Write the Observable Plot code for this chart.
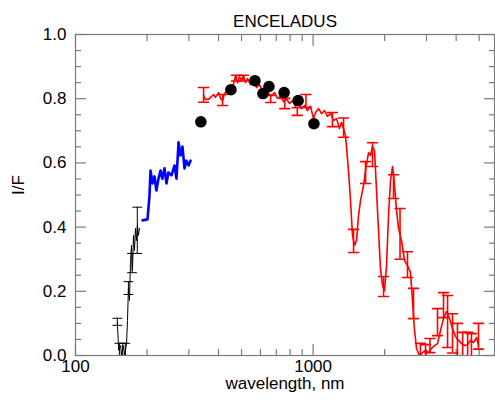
<!DOCTYPE html>
<html>
<head>
<meta charset="utf-8">
<script src="https://cdn.jsdelivr.net/npm/d3@7"></script>
<script src="https://cdn.jsdelivr.net/npm/@observablehq/plot@0.6"></script>
<style>
  body { margin: 0; background: #fff; }
  svg { display: block; }
</style>
</head>
<body>
<div id="chart"></div>
<script>
// Enceladus reflectance spectrum, I/F versus wavelength (nm)

// Far-UV spectrum (black)
const uvWave = [150, 152, 155, 156, 159, 161, 164, 165.5, 167, 168.7, 170.4, 172, 173.7, 175.4, 177.1, 178.8, 180.5, 182.3, 184, 185.8];
const uvIF   = [0.103, 0.016, 0.031, 0, 0.031, 0, 0.037, 0.109, 0.209, 0.171, 0.29, 0.343, 0.265, 0.374, 0.327, 0.396, 0.358, 0.405, 0.374, 0.396];
const uvErrWave = [150, 153, 158, 162, 167, 173, 182];
const uvErrIF   = [0.105, 0.019, 0.019, 0.019, 0.21, 0.288, 0.39];
const uvErr     = [0.011, 0.019, 0.019, 0.019, 0.02, 0.03, 0.072];

// Near-UV spectrum (blue)
const blueWave = [191.4, 201, 204.8, 206.9, 211, 215, 219, 223.5, 228, 232, 237, 241.5, 246, 253.5, 261, 266, 271.5, 276.7, 282, 287.6, 293, 299, 305];
const blueIF   = [0.421, 0.424, 0.498, 0.576, 0.536, 0.558, 0.514, 0.551, 0.576, 0.551, 0.583, 0.536, 0.570, 0.561, 0.592, 0.551, 0.664, 0.623, 0.651, 0.583, 0.607, 0.592, 0.607];

// Visible / near-IR spectrum (red)
const redWave = [346, 352, 363, 374, 381, 388, 400, 408, 416, 424, 436, 449, 462, 471, 481, 490, 500, 509, 519, 530,
  545, 561, 578, 595, 612, 630, 649, 668, 688, 708, 729, 751, 773, 796, 819, 843, 868, 894, 920, 947,
  975, 1004, 1024, 1054, 1085, 1117, 1150, 1184, 1219, 1255, 1291, 1317, 1343, 1369, 1409, 1437, 1465, 1494, 1523, 1553,
  1584, 1630, 1662, 1711, 1745, 1778, 1813, 1849, 1885, 1921, 1959, 1998, 2037, 2077, 2118, 2159, 2202, 2244, 2288, 2356,
  2425, 2496, 2570, 2620, 2672, 2724, 2804, 2887, 2972, 3060, 3150, 3243, 3339, 3437, 3539, 3643, 3751, 3861, 3975, 4093,
  4213, 4338, 4466, 4597, 4733, 4872, 4967];
const redIF = [0.810, 0.798, 0.798, 0.807, 0.813, 0.804, 0.819, 0.801, 0.794, 0.816, 0.826, 0.832, 0.844, 0.869, 0.850, 0.869, 0.857, 0.872, 0.850, 0.863,
  0.844, 0.857, 0.835, 0.844, 0.826, 0.835, 0.816, 0.810, 0.819, 0.801, 0.807, 0.791, 0.798, 0.785, 0.794, 0.776, 0.785, 0.769, 0.779, 0.763,
  0.776, 0.738, 0.757, 0.769, 0.754, 0.763, 0.745, 0.754, 0.732, 0.738, 0.707, 0.726, 0.707, 0.685, 0.576, 0.483, 0.374, 0.343, 0.358, 0.436,
  0.483, 0.530, 0.576, 0.632, 0.623, 0.651, 0.639, 0.514, 0.389, 0.271, 0.218, 0.202, 0.280, 0.436, 0.545, 0.589, 0.530, 0.452, 0.396, 0.358,
  0.296, 0.280, 0.259, 0.171, 0.078, 0.022, 0, 0.009, 0.016, 0.009, 0.022, 0.031, 0.037, 0.078, 0.115, 0.137, 0.115, 0.084, 0.059, 0.047,
  0.037, 0.031, 0.034, 0.047, 0.040, 0.056, 0.031];
const redErrWave = [346, 416, 476, 509, 663, 760, 858, 933, 1206, 1343, 1480, 1662, 1778, 1979, 2180, 2322, 2496, 2646,
  2830, 2972, 3103, 3339, 3539, 3680, 3861, 4050, 4260, 4470, 4640, 4967];
const redErrIF = [0.812, 0.796, 0.864, 0.864, 0.799, 0.785, 0.760, 0.793, 0.735, 0.71, 0.357, 0.570, 0.626, 0.215, 0.526, 0.379, 0.283, 0.162,
  0.019, 0.017, 0.031, 0.104, 0.157, 0.106, 0.069, 0.050, 0.036, 0.036, 0.034, 0.06];
const redErr = [0.023, 0.017, 0.009, 0.009, 0.011, 0.016, 0.012, 0.02, 0.022, 0.03, 0.036, 0.034, 0.037, 0.031, 0.037, 0.079, 0.040, 0.047,
  0.019, 0.017, 0.022, 0.042, 0.039, 0.081, 0.061, 0.050, 0.036, 0.036, 0.034, 0.04];

// Broadband photometry (black dots)
const dotWave = [337, 451, 569, 615, 652, 755, 865, 1008];
const dotIF   = [0.728, 0.828, 0.856, 0.816, 0.838, 0.819, 0.794, 0.722];

// Axis ticks
const xMajor = [100, 1000];
const xMinor = [200, 300, 400, 500, 600, 700, 800, 900, 2000, 3000, 4000, 5000];
const yMajor = [0, 0.2, 0.4, 0.6, 0.8, 1.0];
const yMinor = [0.05, 0.1, 0.15, 0.25, 0.3, 0.35, 0.45, 0.5, 0.55, 0.65, 0.7, 0.75, 0.85, 0.9, 0.95];

const pairs = (ws, vs) => ws.map((w, i) => ({w, v: vs[i]}));
const bars = (ws, vs, es) => ws.map((w, i) => ({w, v: vs[i], lo: Math.max(0, vs[i] - es[i]), hi: vs[i] + es[i]}));

const uv = pairs(uvWave, uvIF);
const blue = pairs(blueWave, blueIF);
const red = pairs(redWave, redIF);
const dots = pairs(dotWave, dotIF);
const uvBars = bars(uvErrWave, uvErrIF, uvErr);
const redBars = bars(redErrWave, redErrIF, redErr);

// horizontal cap of an error bar, drawn as a centred vector
const capShape = { draw(context, l) { context.moveTo(0, 0); context.lineTo(0, -l); } };

function errorBars(data, color, width, capLength) {
  return [
    Plot.ruleX(data, {x: "w", y1: "lo", y2: "hi", stroke: color, strokeWidth: width, clip: true}),
    Plot.vector(data, {x: "w", y: "hi", length: capLength, rotate: 90, anchor: "middle", shape: capShape, stroke: color, strokeWidth: width, clip: true}),
    Plot.vector(data.filter(d => d.lo > 0), {x: "w", y: "lo", length: capLength, rotate: 90, anchor: "middle", shape: capShape, stroke: color, strokeWidth: width, clip: true})
  ];
}

const FONT = 17;
const axisGray = "#7a7a7a";
const tickStyle = {stroke: axisGray, strokeWidth: 1.2, tickFormat: () => "", label: null};

const chart = Plot.plot({
  width: 495,
  height: 402,
  marginLeft: 75,
  marginRight: 1,
  marginTop: 34,
  marginBottom: 47,
  style: {fontFamily: "'Liberation Sans', Arial, Helvetica, sans-serif", fontSize: FONT + "px", color: "black", background: "white"},
  x: {type: "log", domain: [100, 5800]},
  y: {domain: [0, 1]},
  marks: [
    // inward ticks on all four sides
    ...["bottom", "top"].flatMap(anchor => [
      Plot.axisX(xMajor, {anchor, tickSize: -11, ...tickStyle}),
      Plot.axisX(xMinor, {anchor, tickSize: -6, ...tickStyle})
    ]),
    ...["left", "right"].flatMap(anchor => [
      Plot.axisY(yMajor, {anchor, tickSize: -11, ...tickStyle}),
      Plot.axisY(yMinor, {anchor, tickSize: -6, ...tickStyle})
    ]),
    // tick labels
    Plot.axisX(xMajor, {anchor: "bottom", tickSize: 0, tickPadding: 4, tickFormat: d => String(d), label: null, fontSize: FONT, fill: "black"}),
    Plot.axisY(yMajor, {anchor: "left", tickSize: 0, tickPadding: 9, tickFormat: d => d.toFixed(1), label: null, fontSize: FONT, fill: "black"}),
    Plot.frame({stroke: axisGray, strokeWidth: 1.2}),

    // spectra
    Plot.line(uv, {x: "w", y: "v", stroke: "black", strokeWidth: 1, clip: true}),
    ...errorBars(uvBars, "black", 1, 9),
    Plot.line(blue, {x: "w", y: "v", stroke: "#0000ff", strokeWidth: 2.6}),
    Plot.line(red, {x: "w", y: "v", stroke: "#ff0000", strokeWidth: 1.6, clip: true}),
    ...errorBars(redBars, "#ff0000", 1.6, 10),
    Plot.dot(dots, {x: "w", y: "v", r: 5.8, fill: "black", stroke: "none"}),

    // title and axis titles
    Plot.text(["ENCELADUS"], {text: d => d, frameAnchor: "top", dy: -20, fill: "black", fontSize: FONT}),
    Plot.text(["wavelength, nm"], {text: d => d, frameAnchor: "bottom", dy: 33, fill: "black", fontSize: FONT}),
    Plot.text(["I/F"], {text: d => d, frameAnchor: "left", dx: -57, rotate: -90, fill: "black", fontSize: FONT})
  ]
});

document.getElementById("chart").append(chart);
</script>
</body>
</html>
